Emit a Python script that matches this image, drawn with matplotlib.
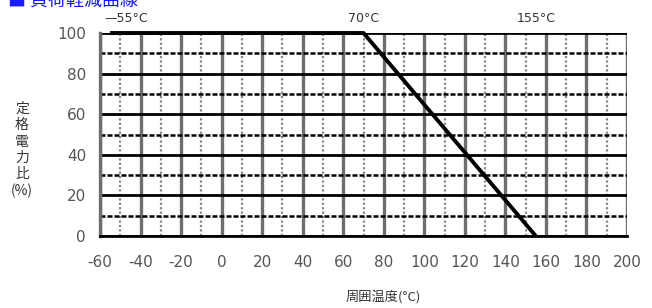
import matplotlib
matplotlib.use("Agg")
import matplotlib.pyplot as plt
import numpy as np

plt.rcParams["font.family"] = ["Noto Sans CJK JP", "DejaVu Sans"]

# derating curve: flat 100% from -55 to 70, then linear to 0 at 155
temp = [-55, 70, 155]
power = [100, 100, 0]

x_major = list(range(-60, 201, 20))
x_minor = list(range(-50, 191, 20))
y_major = [0, 20, 40, 60, 80, 100]
y_minor = [10, 30, 50, 70, 90]

marks = [(-55, "—55°C"), (70, "70°C"), (155, "155°C")]

TEXT_GRAY = "#555555"
GRID_GRAY = "#6e6e6e"

fig = plt.figure(figsize=(6.52, 3.08), dpi=100)
ax = fig.add_axes([100 / 652, 1 - 236 / 308, 527 / 652, 203 / 308])

ax.set_xlim(-60, 200)
ax.set_ylim(0, 100)
ax.set_xticks(x_major)
ax.set_xticks(x_minor, minor=True)
ax.set_yticks(y_major)
ax.set_yticks(y_minor, minor=True)
ax.set_xticklabels([str(v) for v in x_major], family=["DejaVu Sans"])
ax.set_yticklabels([str(v) for v in y_major], family=["DejaVu Sans"])
ax.tick_params(which="both", length=0)
ax.tick_params(axis="x", pad=14, labelsize=11, colors=TEXT_GRAY)
ax.tick_params(axis="y", pad=10, labelsize=11, colors=TEXT_GRAY)

ax.xaxis.grid(True, which="major", color=GRID_GRAY, linewidth=2.4)
ax.xaxis.grid(True, which="minor", color="#888888", linewidth=1.6, linestyle=(0, (1, 1)))
ax.yaxis.grid(True, which="major", color="black", linewidth=2.0)
ax.yaxis.grid(True, which="minor", color="black", linewidth=1.8, linestyle=(0, (2, 0.8)))
ax.set_axisbelow(True)

for side in ["top", "right"]:
    ax.spines[side].set_visible(False)
ax.spines["left"].set_color(GRID_GRAY)
ax.spines["left"].set_linewidth(2.4)
ax.spines["bottom"].set_color("black")
ax.spines["bottom"].set_linewidth(2.0)

ax.plot(temp, power, color="black", linewidth=2.8, solid_capstyle="butt", zorder=5, clip_on=False)

for xv, label in marks:
    # the -55 label sits a little right of its point in the original
    ha = "left" if xv < 0 else "center"
    ax.text(xv - 3 if xv < 0 else xv, 104, label, ha=ha, va="bottom", fontsize=9,
            color="#333333", family=["DejaVu Sans"])

fig.text(22 / 652, 1 - 150 / 308, "\n".join(["定", "格", "電", "力", "比", "(%)"]),
         ha="center", va="center", fontsize=10, linespacing=1.2, color="#333333")
fig.text(383 / 652, 1 - 297 / 308, "周囲温度(°C)", ha="center", va="center",
         fontsize=9.5, color="#333333")
fig.text(8 / 652, 1 - 1 / 308, "■ 負荷軽減曲線", ha="left", va="center",
         fontsize=13, color="#1a1aff")

fig.savefig("out.png", dpi=100, facecolor="white")
